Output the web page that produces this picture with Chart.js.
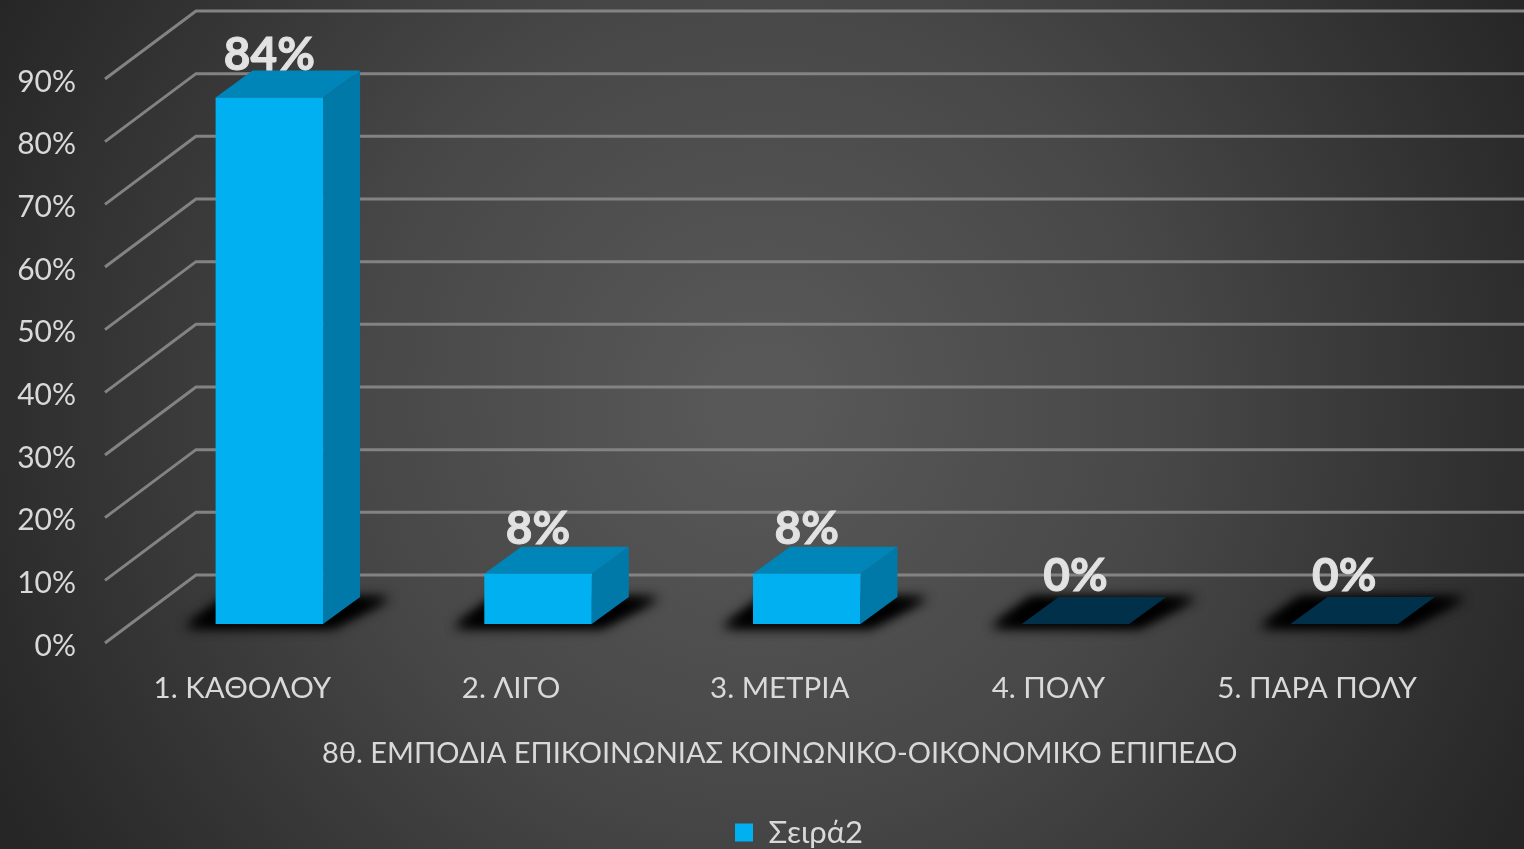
<!DOCTYPE html>
<html>
<head>
<meta charset="utf-8">
<style>html,body{margin:0;padding:0;background:#333;overflow:hidden}#wrap{width:1524px;height:849px}</style>
<script src="https://cdn.jsdelivr.net/npm/chart.js@4"></script>
</head>
<body>
<div id="wrap"><canvas id="c" width="1524" height="849"></canvas></div>
<script>
const categories = ["1. ΚΑΘΟΛΟΥ", "2. ΛΙΓΟ", "3. ΜΕΤΡΙΑ", "4. ΠΟΛΎ", "5. ΠΑΡΑ ΠΟΛΎ"];
const seriesName = "Σειρά2";
const seriesValues = [84, 8, 8, 0, 0];
const axisTitle = "8θ. ΕΜΠΟΔΙΑ ΕΠΙΚΟΙΝΩΝΙΑΣ ΚΟΙΝΩΝΙΚΟ-ΟΙΚΟΝΟΜΙΚΟ ΕΠΙΠΕΔΟ";
const FONT = "Lato, 'Open Sans', sans-serif";
const TEXT = "#d9d9d9";

const wall = {dx: 91, dy: -68};
const barShift = {dx: 27, dy: -19};
const depth = {dx: 37, dy: -27};

function poly(ctx, pts, fill) {
  ctx.beginPath();
  pts.forEach((p, i) => i ? ctx.lineTo(p[0], p[1]) : ctx.moveTo(p[0], p[1]));
  ctx.closePath();
  ctx.fillStyle = fill;
  ctx.fill();
}

const scene = {
  id: "scene",
  afterLayout(chart) {
    const lg = chart.legend;
    lg.left = 799 - lg.width / 2;
    lg.right = lg.left + lg.width;
    lg.top += 9;
    lg.bottom += 9;
  },
  beforeDraw(chart) {
    const {ctx, width, height} = chart;
    ctx.save();
    const g = ctx.createRadialGradient(762, 400, 40, 762, 400, 860);
    g.addColorStop(0, "#585858");
    g.addColorStop(0.45, "#474747");
    g.addColorStop(1, "#262626");
    ctx.fillStyle = g;
    ctx.fillRect(0, 0, width, height);
    ctx.restore();
  },
  beforeDatasetsDraw(chart) {
    const {ctx} = chart;
    const y = chart.scales.y, x = chart.scales.x;
    ctx.save();
    ctx.strokeStyle = "#838383";
    ctx.lineWidth = 3;
    y.ticks.forEach(t => {
      const py = y.getPixelForValue(t.value);
      ctx.beginPath();
      ctx.moveTo(x.left - 3, py);
      ctx.lineTo(x.left - 3 + wall.dx, py + wall.dy);
      ctx.lineTo(chart.width + 5, py + wall.dy);
      ctx.stroke();
    });
    const meta = chart.getDatasetMeta(0);
    meta.data.forEach((bar, i) => {
      const w = bar.width;
      const l = bar.x - w / 2 + barShift.dx;
      const r = l + w;
      const base = y.getPixelForValue(0) + barShift.dy;
      const top = bar.y + barShift.dy;
      // soft floor shadow: only the blur lands on the canvas, the shape is off-screen
      const off = 3000;
      ctx.save();
      ctx.shadowColor = "rgba(0,0,0,0.95)";
      ctx.shadowBlur = 12;
      ctx.shadowOffsetX = off;
      const sh = [[l - 30 - off, base + 3], [r + 10 - off, base + 3], [r + depth.dx + 30 - off, base + depth.dy + 1], [l + 10 - off, base + depth.dy + 1]];
      poly(ctx, sh, "#000");
      poly(ctx, sh, "#000");
      ctx.restore();
      if (seriesValues[i] > 0) {
        poly(ctx, [[r, base], [r + depth.dx, base + depth.dy], [r + depth.dx, top + depth.dy], [r, top]], "#0079a8");
        poly(ctx, [[l, top], [r, top], [r + depth.dx, top + depth.dy], [l + depth.dx, top + depth.dy]], "#0085b8");
      } else {
        poly(ctx, [[l, base], [r, base], [r + depth.dx, base + depth.dy], [l + depth.dx, base + depth.dy]], "#00304a");
      }
    });
    ctx.restore();
    ctx.save();
    ctx.translate(barShift.dx, barShift.dy);
  },
  afterDatasetsDraw(chart) {
    const {ctx} = chart;
    ctx.restore();
    const meta = chart.getDatasetMeta(0);
    ctx.save();
    ctx.font = "bold 46px " + FONT;
    ctx.textAlign = "center";
    ctx.textBaseline = "alphabetic";
    ctx.fillStyle = "#e2e2e2";
    ctx.strokeStyle = "#e2e2e2";
    ctx.lineWidth = 1;
    meta.data.forEach((bar, i) => {
      const gap = seriesValues[i] > 0 ? (seriesValues[i] > 50 ? 28 : 30) : 33;
      const tx = bar.x + barShift.dx, ty = bar.y + barShift.dy - gap;
      ctx.fillText(seriesValues[i] + "%", tx, ty);
      ctx.strokeText(seriesValues[i] + "%", tx, ty);
    });
    ctx.restore();
  }
};

new Chart(document.getElementById("c"), {
  type: "bar",
  data: {
    labels: categories,
    datasets: [{
      label: seriesName,
      data: seriesValues,
      backgroundColor: "#00b0f0",
      borderWidth: 0,
      categoryPercentage: 1,
      barPercentage: 0.4
    }]
  },
  plugins: [scene],
  options: {
    responsive: false,
    animation: false,
    layout: {padding: {top: 79, right: 72.5, left: 0, bottom: 0}},
    scales: {
      y: {
        min: 0, max: 90,
        afterFit(s) { s.width = 108; },
        border: {display: false},
        grid: {display: false, drawTicks: false},
        ticks: {stepSize: 10, padding: 32, labelOffset: 3, color: TEXT, font: {family: FONT, size: 30}, callback: v => v + "%"}
      },
      x: {
        afterFit(s) { s.height = 163; },
        border: {display: false},
        grid: {display: false, drawTicks: false},
        ticks: {padding: 28, color: TEXT, maxRotation: 0, autoSkip: false, font: {family: FONT, size: 29.5}},
        title: {display: true, text: axisTitle, color: TEXT, font: {family: FONT, size: 29}, padding: {top: 28, bottom: 35}}
      }
    },
    plugins: {
      tooltip: {enabled: false},
      legend: {
        position: "bottom",
        labels: {color: TEXT, boxWidth: 18, boxHeight: 18, padding: 2, font: {family: FONT, size: 31}}
      }
    }
  }
});
</script>
</body>
</html>
